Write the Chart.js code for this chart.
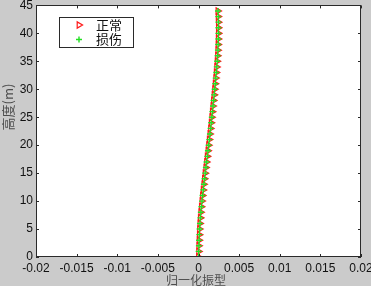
<!DOCTYPE html>
<html>
<head>
<meta charset="utf-8">
<script src="https://cdn.jsdelivr.net/npm/chart.js@4.4.1/dist/chart.umd.min.js"></script>
<style>
  html, body { margin: 0; padding: 0; background: #cbcbcb; overflow: hidden; }
  canvas { display: block; }
</style>
</head>
<body>
<canvas id="shapeChart" width="371" height="286"></canvas>
<script>
//------------------------------------------------------------
// heights (m) of the measuring points
const heights = [
    0, 1, 2, 3, 4, 5, 6, 7, 8, 9,
    10, 11, 12, 13, 14, 15, 16, 17, 18, 19,
    20, 21, 22, 23, 24, 25, 26, 27, 28, 29,
    30, 31, 32, 33, 34, 35, 36, 37, 38, 39,
    40, 41, 42, 43, 44,
];

// normalised mode shape, intact structure
const normalShape = [
    0.00000, 0.00002, 0.00004, 0.00007, 0.00010, 0.00013, 0.00017, 0.00022, 0.00028, 0.00035,
    0.00042, 0.00049, 0.00057, 0.00065, 0.00073, 0.00081, 0.00090, 0.00099, 0.00107, 0.00116,
    0.00124, 0.00132, 0.00140, 0.00148, 0.00156, 0.00163, 0.00170, 0.00177, 0.00184, 0.00191,
    0.00198, 0.00205, 0.00212, 0.00218, 0.00224, 0.00229, 0.00234, 0.00238, 0.00241, 0.00243,
    0.00244, 0.00245, 0.00244, 0.00242, 0.00239,
];

// normalised mode shape, damaged structure
const damagedShape = [
    0.00000, 0.00002, 0.00005, 0.00007, 0.00010, 0.00014, 0.00018, 0.00023, 0.00029, 0.00036,
    0.00043, 0.00050, 0.00058, 0.00066, 0.00074, 0.00082, 0.00091, 0.00099, 0.00108, 0.00116,
    0.00125, 0.00133, 0.00141, 0.00149, 0.00156, 0.00164, 0.00171, 0.00178, 0.00185, 0.00192,
    0.00199, 0.00206, 0.00212, 0.00219, 0.00225, 0.00230, 0.00235, 0.00239, 0.00242, 0.00244,
    0.00245, 0.00245, 0.00245, 0.00243, 0.00240,
];

const seriesNames = ['正常', '损伤'];

const xTickValues = [-0.02, -0.015, -0.01, -0.005, 0, 0.005, 0.01, 0.015, 0.02];
const xTickLabels = ['-0.02', '-0.015', '-0.01', '-0.005', '0', '0.005', '0.01', '0.015', '0.02'];
const yTickValues = [0, 5, 10, 15, 20, 25, 30, 35, 40, 45];
const yTickLabels = ['0', '5', '10', '15', '20', '25', '30', '35', '40', '45'];

const xTitle = '归一化振型';
const yTitle = '高度(m)';

//------------------------------------------------------------
const normalColor = '#ff1a1a';
const damagedColor = '#22e022';
const cjkFont = '"Noto Sans CJK SC", "Noto Sans", sans-serif';

const toPoints = values => values.map((v, i) => ({ x: v, y: heights[i] }));

//----------------------------------
// white plot area, box with inward ticks, axis titles and legend
const matlabFrame = {
    id: 'matlabFrame',
    beforeDraw(chart) {
        const { ctx, chartArea: a } = chart;
        ctx.save();
        ctx.fillStyle = '#ffffff';
        ctx.fillRect(a.left, a.top, a.right - a.left, a.bottom - a.top);
        ctx.restore();
    },
    afterDraw(chart) {
        const { ctx, chartArea: a, scales } = chart;
        const tick = 3;
        ctx.save();
        ctx.strokeStyle = '#2a2a2a';
        ctx.lineWidth = 1;
        ctx.strokeRect(Math.round(a.left) + 0.5, Math.round(a.top) + 0.5,
            Math.round(a.right - a.left) - 1, Math.round(a.bottom - a.top) - 1);

        ctx.beginPath();
        xTickValues.forEach(v => {
            const px = Math.round(scales.x.getPixelForValue(v)) + 0.5;
            ctx.moveTo(px, a.bottom); ctx.lineTo(px, a.bottom - tick);
            ctx.moveTo(px, a.top); ctx.lineTo(px, a.top + tick);
        });
        yTickValues.forEach(v => {
            const py = Math.round(scales.y.getPixelForValue(v)) + 0.5;
            ctx.moveTo(a.left, py); ctx.lineTo(a.left + tick, py);
            ctx.moveTo(a.right, py); ctx.lineTo(a.right - tick, py);
        });
        ctx.stroke();

        // axis titles
        ctx.fillStyle = '#4d4d4d';
        ctx.textAlign = 'center';
        ctx.textBaseline = 'middle';
        ctx.font = '12px ' + cjkFont;
        ctx.fillText(xTitle, 196, 280);
        ctx.translate(8, 107);
        ctx.rotate(-Math.PI / 2);
        ctx.font = '13px ' + cjkFont;
        ctx.fillText(yTitle, 0, 0);
        ctx.restore();

        // legend box
        ctx.save();
        ctx.fillStyle = '#ffffff';
        ctx.fillRect(59.5, 17.5, 74, 30);
        ctx.strokeStyle = '#2a2a2a';
        ctx.strokeRect(59.5, 17.5, 74, 30);
        chart.data.datasets.forEach((ds, i) => {
            const y = 25 + i * 14.5;
            ctx.strokeStyle = ds.borderColor;
            ctx.fillStyle = 'rgba(0,0,0,0)';
            ctx.lineWidth = ds.borderWidth;
            Chart.helpers.drawPoint(ctx, {
                pointStyle: ds.pointStyle,
                rotation: ds.rotation,
                radius: ds.pointRadius,
                borderWidth: ds.borderWidth,
            }, 79, y);
            ctx.fillStyle = '#111111';
            ctx.font = '13px ' + cjkFont;
            ctx.textAlign = 'left';
            ctx.textBaseline = 'middle';
            ctx.fillText(ds.label, 96, y);
        });
        ctx.restore();
    },
};

//------------------------------------------------------------
new Chart(document.getElementById('shapeChart').getContext('2d'), {
    type: 'scatter',
    data: {
        datasets: [
            {
                label: seriesNames[0],
                data: toPoints(normalShape),
                pointStyle: 'triangle',
                rotation: 90,
                pointRadius: 3.6,
                borderWidth: 1.2,
                borderColor: normalColor,
                backgroundColor: 'rgba(0,0,0,0)',
                showLine: false,
                order: 2,
            },
            {
                label: seriesNames[1],
                data: toPoints(damagedShape),
                pointStyle: 'cross',
                rotation: 0,
                pointRadius: 3,
                borderWidth: 1.4,
                borderColor: damagedColor,
                backgroundColor: damagedColor,
                showLine: false,
                order: 1,
            },
        ],
    },
    options: {
        responsive: false,
        animation: false,
        events: [],
        layout: { padding: { top: 3, right: 10, left: 0, bottom: 0 } },
        plugins: {
            legend: { display: false },
            tooltip: { enabled: false },
        },
        scales: {
            x: {
                type: 'linear',
                min: -0.02,
                max: 0.02,
                grid: { display: false, drawTicks: false },
                border: { display: false },
                afterBuildTicks: scale => { scale.ticks = xTickValues.map(v => ({ value: v })); },
                afterFit: scale => {
                    scale.height = 29;
                    scale.paddingLeft = 0;
                    scale.paddingRight = 0;
                },
                ticks: {
                    autoSkip: false,
                    maxRotation: 0,
                    padding: 4,
                    color: '#111111',
                    font: { family: '"Liberation Sans", Arial, sans-serif', size: 12 },
                    callback: (value, index) => xTickLabels[index],
                },
            },
            y: {
                type: 'linear',
                min: 0,
                max: 45,
                grid: { display: false, drawTicks: false },
                border: { display: false },
                afterBuildTicks: scale => { scale.ticks = yTickValues.map(v => ({ value: v })); },
                afterFit: scale => {
                    scale.width = 36;
                    scale.paddingTop = 0;
                    scale.paddingBottom = 0;
                },
                ticks: {
                    autoSkip: false,
                    padding: 3,
                    color: '#111111',
                    font: { family: '"Liberation Sans", Arial, sans-serif', size: 12 },
                    callback: (value, index) => yTickLabels[index],
                },
            },
        },
    },
    plugins: [matlabFrame],
});
</script>
</body>
</html>
